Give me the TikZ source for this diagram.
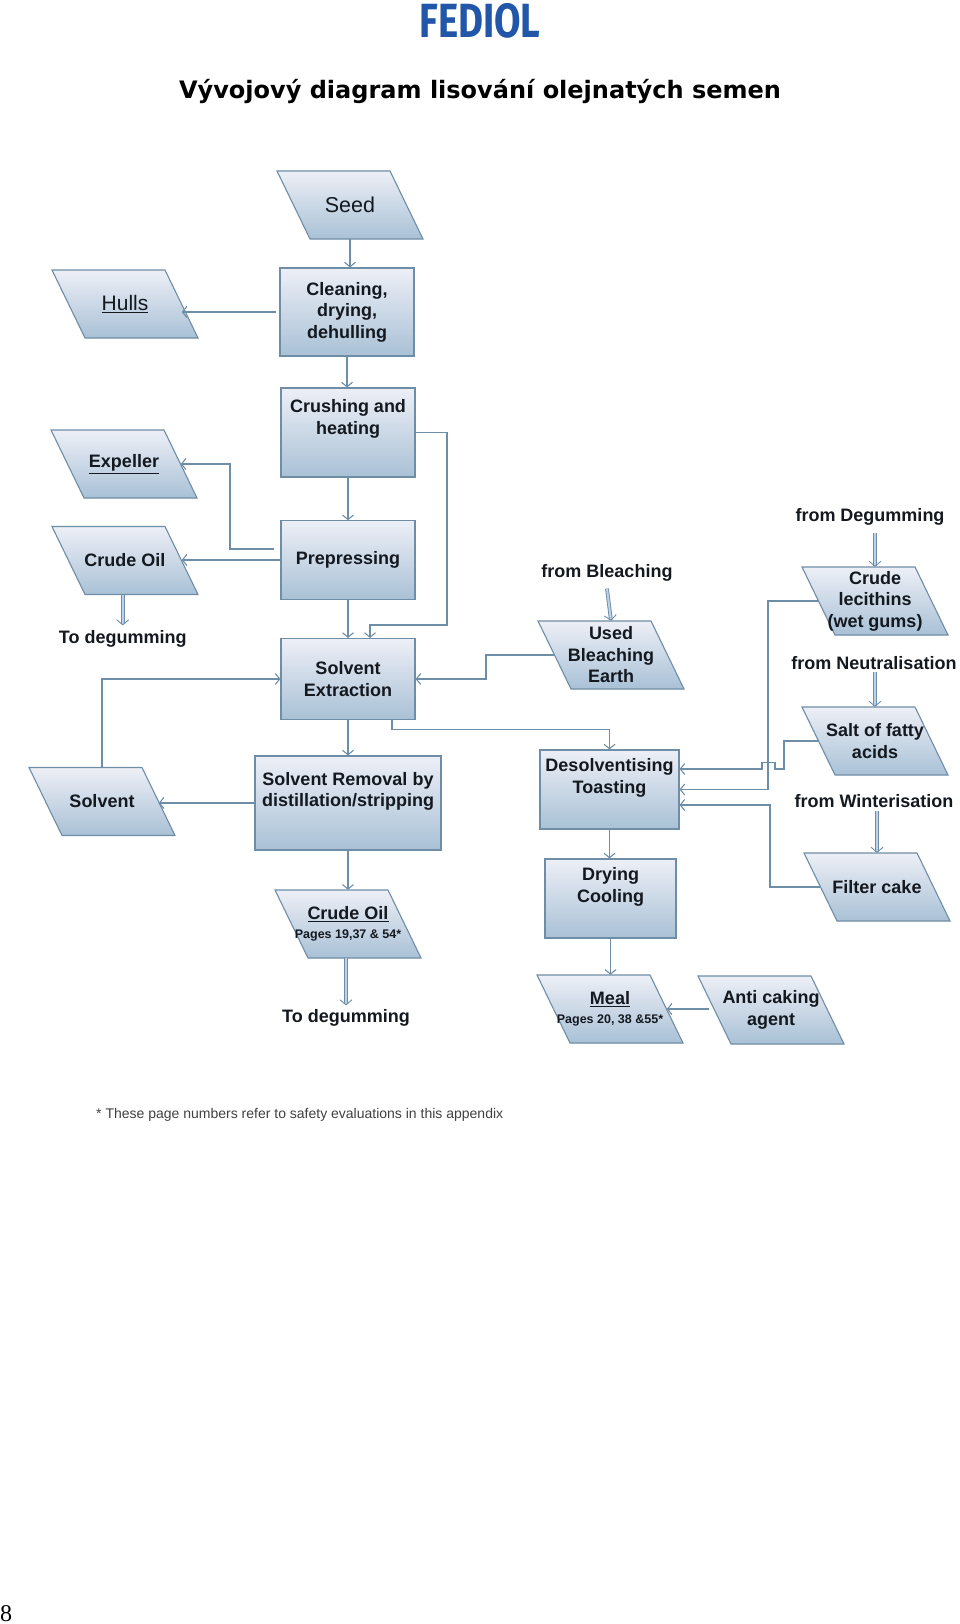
\documentclass[tikz,border=0pt]{standalone}
\usepackage{fontspec}
\setmainfont{Liberation Sans}
\newfontfamily\headfont{DejaVu Sans}
\newfontfamily\logofont{Fira Sans}
\newfontfamily\pagefont{Liberation Serif}
\usetikzlibrary{arrows.meta}
\usetikzlibrary{positioning}
\definecolor{linec}{HTML}{6E8DA6}
\definecolor{boxtop}{HTML}{EDEFF6}
\definecolor{boxbot}{HTML}{A9C1D6}
\definecolor{inkc}{HTML}{14181F}
\definecolor{feedc}{HTML}{BCD2E8}
\definecolor{logoc}{HTML}{2156A8}
\tikzset{boxshade/.style = {draw = linec, line width = 1.1, top color = boxtop, bottom color = boxbot}}
\tikzset{procbox/.style = {boxshade, rectangle, inner sep = 0, align = center, text = inkc, font = \fontsize{18}{21.5}\selectfont\bfseries}}
\tikzset{slabtext/.style = {rectangle, inner sep = 0, minimum width = 113, minimum height = 68, align = center, text = inkc, font = \fontsize{18}{21.5}\selectfont\bfseries}}
\tikzset{freetext/.style = {inner sep = 0, text = inkc, font = \fontsize{18}{21.5}\selectfont\bfseries}}
\tikzset{flow/.style = {draw = linec, line width = 1.1, -{Straight Barb[length = 4.5, width = 11, line width = 1.1]}}}
\tikzset{plainflow/.style = {draw = linec, line width = 1.1}}
\tikzset{feed/.style = {draw = linec, line width = .9, double = feedc, double distance = 2, -{Straight Barb[length = 5, width = 12, line width = .9]}}}
\newcommand{\slab}[3]{
  \path [boxshade, shift = {(#2)}] (-40, 34) -- (73, 34) -- (40, -34) -- (-73, -34) -- cycle;
  \node [slabtext] (#1) at (#2) {#3};
}
\newcommand{\subline}[1]{\\[-3pt]{\fontsize{12.5}{13}\selectfont #1}}
\begin{document}
\begin{tikzpicture}[x = 1pt, y = -1pt]
  \useasboundingbox (0, 0) rectangle (960, 1624);
  \node [inner sep = 0, xscale = .8, transform shape, text = logoc, font = \fontsize{48}{48}\logofont\bfseries] (logo) at (480, 21) {FEDIOL};
  \node [inner sep = 0, font = \fontsize{24}{24}\headfont\bfseries] (title) at (480, 91) {Vývojový diagram lisování olejnatých semen};

  % left column
  \slab{seed}{350, 205}{\mdseries\fontsize{21.5}{22}\selectfont Seed}
  \slab{hulls}{125, 304}{\mdseries\fontsize{21}{22}\selectfont\underline{Hulls}}
  \node [procbox, minimum width = 134, minimum height = 88] (cleaning) at (347, 312) {Cleaning,\\drying,\\dehulling};
  \node [procbox, minimum width = 134, minimum height = 89] (crushing) at (348, 432.5) {Crushing and\\heating\\[10pt]};
  \slab{expeller}{124, 464}{\underline{Expeller}}
  \node [procbox, minimum width = 134, minimum height = 78.5] (prepress) at (348, 560) {Prepressing};
  \slab{crudeoil}{125, 560.5}{Crude Oil}
  \node [freetext] (toa) at (122.7, 639) {To degumming};
  \node [procbox, minimum width = 134, minimum height = 81] (extraction) at (348, 679) {Solvent\\Extraction};
  \slab{solvent}{102, 801.5}{Solvent}
  \node [procbox, minimum width = 186, minimum height = 94] (removal) at (348, 803) {Solvent Removal by\\distillation/stripping\\[6pt]};
  \slab{crudeoilb}{348, 924}{\underline{Crude Oil}\subline{Pages 19,37 \& 54*}}
  \node [freetext] (tob) at (346, 1018) {To degumming};

  % right columns
  \node [freetext] (bleachfrom) at (607, 573) {from Bleaching};
  \slab{bleach}{611, 655}{Used\\Bleaching\\Earth}
  \node [freetext] (degumfrom) at (870, 517) {from Degumming};
  \slab{lecithin}{875, 601}{Crude\\lecithins\\(wet gums)}
  \node [freetext] (neutralfrom) at (874, 663) {from Neutralisation};
  \slab{salt}{875, 741}{Salt of fatty\\acids}
  \node [freetext] (winterfrom) at (874, 801) {from Winterisation};
  \slab{filter}{877, 887}{Filter cake}
  \node [procbox, minimum width = 139, minimum height = 79] (desolv) at (609.5, 789.5) {Desolventising\\Toasting\\[6pt]};
  \node [procbox, minimum width = 131, minimum height = 79] (drying) at (610.5, 898.5) {Drying\\Cooling\\[6pt]};
  \slab{meal}{610, 1009}{\underline{Meal}\subline{Pages 20, 38 \&55*}}
  \slab{anti}{771, 1010}{Anti caking\\agent}

  \node [inner sep = 0, anchor = west, text = black!75, font = \fontsize{14}{14}\selectfont] (footnote) at (96, 1115) {* These page numbers refer to safety evaluations in this appendix};
  \node [inner sep = 0, font = \fontsize{24}{24}\pagefont] (pageno) at (6, 1614) {8};

  \coordinate (crushturn) at (447, 625);
  \coordinate (pressturn) at (230, 464);
  \coordinate (bleachturn) at (486, 679);
  \coordinate (mealturn) at (392, 729.5);
  \coordinate (lecithturn) at (768, 789.5);
  \coordinate (filterturn) at (770, 805);
  \coordinate (hopa) at (784, 769);
  \coordinate (hopb) at (775, 769);
  \coordinate (hopc) at (775, 762.5);
  \coordinate (hopd) at (762, 762.5);
  \coordinate (hope) at (762, 769);

  \draw [flow] (seed.south) -- (seed.south |- cleaning.north);
  \draw [flow] ([xshift = -3]cleaning.west) -- (cleaning.west -| hulls.east);
  \draw [flow] (cleaning.south) -- (cleaning.south |- crushing.north);
  \draw [flow] (crushing.south) -- (prepress.north);
  \draw [flow] (crushing.east) -| (crushturn) -| ([xshift = 22]extraction.north);
  \draw [flow] ([xshift = -6, yshift = 11]prepress.west) -| (pressturn) -- (expeller.east);
  \draw [flow] (prepress.west) -- (prepress.west -| crudeoil.east);
  \draw [flow] (prepress.south) -- (extraction.north);
  \draw [flow] (solvent.north) |- (extraction.west);
  \draw [flow] (bleach.west) -| (bleachturn) -- (extraction.east);
  \draw [flow] ([xshift = 44]extraction.south) -- (mealturn) -| (desolv.north);
  \draw [flow] (extraction.south) -- (removal.north);
  \draw [flow] (removal.west) -- (removal.west -| solvent.east);
  \draw [flow] (removal.south) -- (crudeoilb.north);
  \draw [flow] (lecithin.west) -| (lecithturn) -- (desolv.east);
  \draw [flow] (salt.west) -| (hopa) -- (hopb) -- (hopc) -- (hopd) -- (hope) -- (hope -| desolv.east);
  \draw [flow] (filter.west) -| (filterturn) -- (filterturn -| desolv.east);
  \draw [flow] (desolv.south) -- (desolv.south |- drying.north);
  \draw [flow] (drying.south) -- (drying.south |- meal.north);
  \draw [flow] ([xshift = -5]anti.west |- meal.east) -- (meal.east);

  \draw [feed] (crudeoil.south -| toa.north) -- ([yshift = 5]toa.north);
  \draw [feed] (crudeoilb.south -| tob.north) -- ([yshift = 4]tob.north);
  \draw [feed] ([yshift = -7]bleachfrom.south) -- (bleach.north);
  \draw [feed] ([xshift = 5, yshift = -7]degumfrom.south) -- (lecithin.north);
  \draw [feed] ([yshift = -2]neutralfrom.south -| salt.north) -- (salt.north);
  \draw [feed] ([yshift = -3]winterfrom.south -| filter.north) -- (filter.north);
\end{tikzpicture}
\end{document}
